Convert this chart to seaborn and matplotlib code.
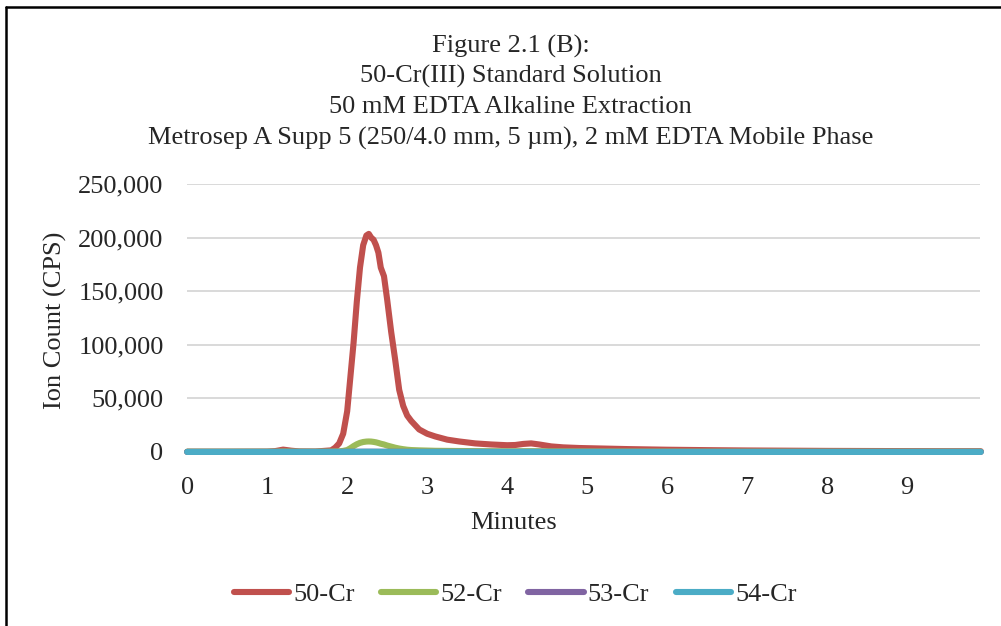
import pandas as pd
import matplotlib
matplotlib.use("Agg")
import matplotlib.pyplot as plt
from matplotlib.lines import Line2D
from matplotlib.ticker import StrMethodFormatter
import seaborn as sns

# Temps de rétention (minutes)
minutes = [0.0, 0.5, 1.0, 1.1, 1.2, 1.3, 1.4, 1.6, 1.8,
           1.85, 1.9, 1.95, 2.0,
           2.04, 2.08, 2.12, 2.16, 2.2,
           2.24, 2.27, 2.3, 2.33, 2.36,
           2.39, 2.42, 2.46, 2.5,
           2.55, 2.6, 2.65, 2.7, 2.75, 2.8,
           2.9, 3.0, 3.1, 3.25, 3.4, 3.6, 3.8,
           4.0, 4.1, 4.2, 4.3, 4.4, 4.55, 4.7, 4.9,
           5.2, 5.5, 6.0, 6.5, 7.0, 7.5, 8.0, 8.5, 9.0, 9.5, 9.92]

# Comptages (CPS)
cr50 = [200, 200, 300, 800, 2200, 1200, 500, 400, 1500,
        4000, 8000, 17000, 38000,
        70000, 102000, 140000, 172000, 193000,
        202000, 203500, 200000, 198000, 193000,
        186000, 172000, 164000, 142000,
        112000, 86000, 58000, 43000, 34000, 29000,
        21000, 17000, 14500, 11500, 9800, 8000, 7000,
        6300, 6500, 7500, 8000, 7000, 5200, 4300, 3700,
        3200, 2700, 2100, 1700, 1400, 1200, 1000, 900, 800, 700, 700]

cr52 = [300, 300, 300, 300, 500, 400, 300, 300, 400,
        500, 600, 1000, 1800,
        3500, 5500, 7200, 8500, 9300,
        9700, 9800, 9700, 9400, 9000,
        8400, 7700, 7000, 6000,
        5000, 4000, 3200, 2600, 2100, 1800,
        1500, 1300, 1100, 1000, 900, 800, 700,
        650, 650, 700, 750, 700, 600, 550, 500,
        450, 400, 350, 300, 300, 300, 300, 300, 300, 300, 300]

cr53 = [80, 80, 80, 80, 90, 80, 80, 80, 80,
        80, 90, 100, 120,
        150, 180, 200, 220, 240,
        250, 250, 250, 240, 230,
        220, 200, 190, 180,
        160, 150, 140, 130, 120, 110,
        100, 100, 90, 90, 90, 80, 80,
        80, 80, 80, 80, 80, 80, 80, 80,
        80, 80, 80, 80, 80, 80, 80, 80, 80, 80, 80]

cr54 = [40, 40, 40, 40, 50, 40, 40, 40, 40,
        40, 50, 60, 70,
        90, 110, 120, 130, 140,
        150, 150, 150, 140, 130,
        120, 110, 100, 90,
        80, 70, 60, 60, 50, 50,
        50, 40, 40, 40, 40, 40, 40,
        40, 40, 40, 40, 40, 40, 40, 40,
        40, 40, 40, 40, 40, 40, 40, 40, 40, 40, 40]

isotopes = ["50-Cr", "52-Cr", "53-Cr", "54-Cr"]
couleurs = ["#C0504D", "#9BBB59", "#8064A2", "#4BACC6"]

titre = ["Figure 2.1 (B):",
         "50-Cr(III) Standard Solution",
         "50 mM EDTA Alkaline Extraction",
         "Metrosep A Supp 5 (250/4.0 mm, 5 \u00b5m), 2 mM EDTA Mobile Phase"]

# Tableau long pour seaborn
frames = []
for nom, valeurs in zip(isotopes, [cr50, cr52, cr53, cr54]):
    frames.append(pd.DataFrame({"Minutes": minutes, "CPS": valeurs, "Isotope": nom}))
df = pd.concat(frames, ignore_index=True)

sns.set_style("white")
plt.rcParams["font.family"] = ["Liberation Serif", "DejaVu Serif"]
taille = 19

fig = plt.figure(figsize=(10.01, 6.26), dpi=100)
ax = fig.add_axes([0.187, 0.278, 0.792, 0.428])

sns.lineplot(data=df, x="Minutes", y="CPS", hue="Isotope", hue_order=isotopes,
             palette=couleurs, linewidth=4.4, ax=ax, legend=False, sort=False)
for ligne in ax.lines:
    ligne.set_clip_on(False)
    ligne.set_solid_capstyle("round")

ax.set_xlim(0, 9.91)
ax.set_ylim(0, 250000)
ax.set_xticks(range(0, 10))
ax.set_yticks(range(0, 250001, 50000))
ax.yaxis.set_major_formatter(StrMethodFormatter("{x:,.0f}"))
ax.tick_params(axis="both", length=0, labelsize=taille)
ax.tick_params(axis="y", pad=17)
ax.tick_params(axis="x", pad=18)
ax.grid(axis="y", color="#d9d9d9", linewidth=1.4)
ax.set_axisbelow(True)
for s in ax.spines.values():
    s.set_visible(False)
ax.set_xlabel("")
ax.set_ylabel("")

# Titres et étiquettes d'axes
for i, ligne in enumerate(titre):
    fig.text(0.51, 1 - (46 + i * 30.7) / 626, ligne, ha="center", va="center", fontsize=taille)
fig.text(514 / 1001, 1 - 523 / 626, "Minutes", ha="center", va="center", fontsize=taille)
fig.text(55 / 1001, 1 - 320 / 626, "Ion Count (CPS)", ha="center", va="center",
         rotation=90, fontsize=taille)

# Légende en bas
poignees = [Line2D([0], [0], color=c, linewidth=4.4, solid_capstyle="round") for c in couleurs]
fig.legend(poignees, isotopes, loc="center", bbox_to_anchor=(515 / 1001, 1 - 594 / 626),
           ncol=4, frameon=False, fontsize=taille, handlelength=2.1,
           handletextpad=0.15, columnspacing=1.0)

# Cadre de la zone de graphique (gauche et haut)
fig.add_artist(Line2D([6 / 1001, 6 / 1001], [0, 1 - 7 / 626], color="black", linewidth=1.8))
fig.add_artist(Line2D([6 / 1001, 1], [1 - 7 / 626, 1 - 7 / 626], color="black", linewidth=1.8))

fig.savefig("out.png", dpi=100)
